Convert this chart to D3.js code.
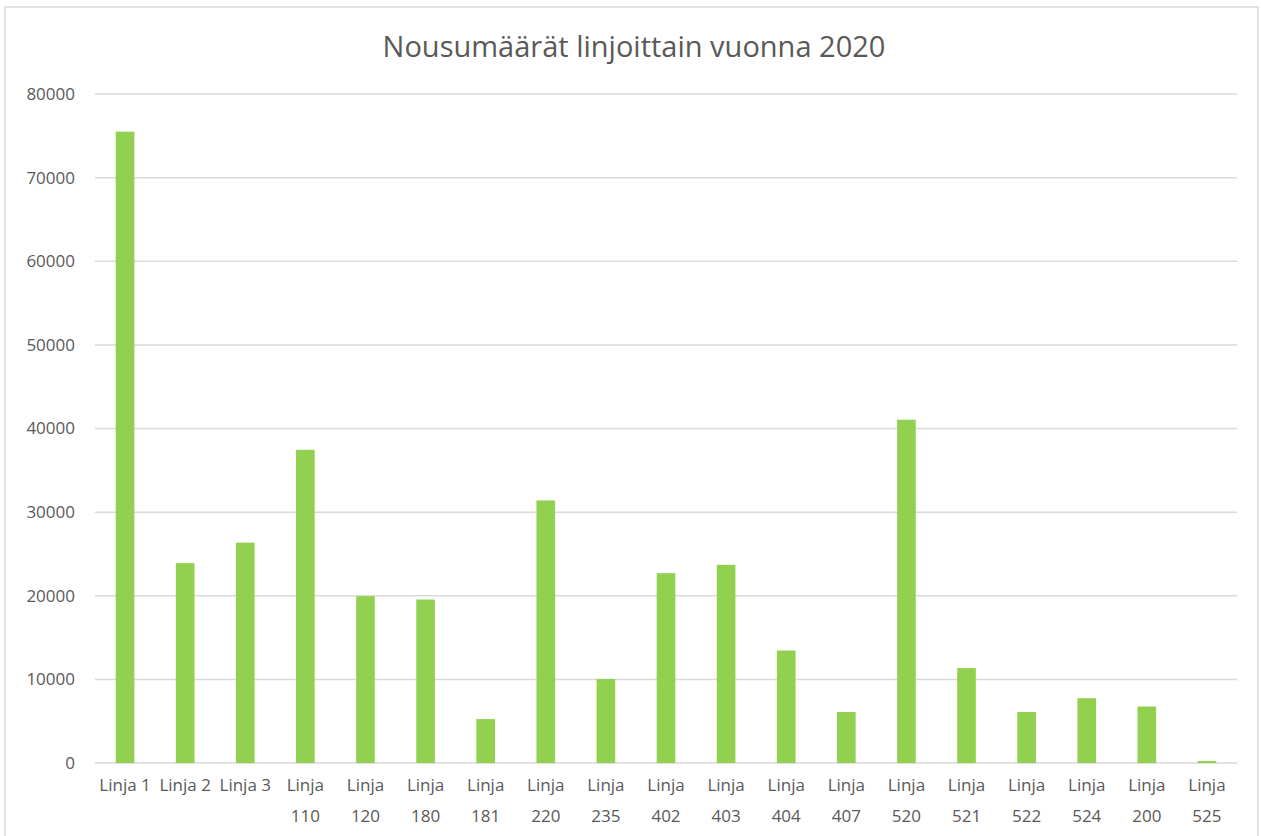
<!DOCTYPE html>
<html>
<head>
<meta charset="utf-8">
<script src="https://cdn.jsdelivr.net/npm/d3@7"></script>
<style>
  body { margin: 0; background: #fff; }
  text { font-family: "Open Sans", sans-serif; fill: #595959; }
</style>
</head>
<body>
<svg id="chart"></svg>
<script>
// Data
const categories = ["Linja 1", "Linja 2", "Linja 3", "Linja 110", "Linja 120", "Linja 180", "Linja 181",
  "Linja 220", "Linja 235", "Linja 402", "Linja 403", "Linja 404", "Linja 407", "Linja 520",
  "Linja 521", "Linja 522", "Linja 524", "Linja 200", "Linja 525"];
const boardings = [75500, 23900, 26350, 37450, 19950, 19550, 5250, 31400, 10050, 22700, 23700,
  13450, 6100, 41050, 11350, 6100, 7750, 6750, 250];
const yTicks = [0, 10000, 20000, 30000, 40000, 50000, 60000, 70000, 80000];
const chartTitle = "Nousumäärät linjoittain vuonna 2020";

const width = 1261, height = 836;
const margin = { top: 94, right: 24, bottom: 73, left: 95 };
const innerW = width - margin.left - margin.right;
const innerH = height - margin.top - margin.bottom;

const svg = d3.select("#chart")
    .attr("width", width)
    .attr("height", height);

// Chart border
svg.append("rect")
    .attr("x", 5).attr("y", 7)
    .attr("width", 1253).attr("height", 840)
    .attr("fill", "none")
    .attr("stroke", "#d9d9d9")
    .attr("stroke-width", 1.5);

svg.append("text")
    .attr("x", 634)
    .attr("y", 57)
    .attr("text-anchor", "middle")
    .style("font-size", "29px")
    .text(chartTitle);

const g = svg.append("g")
    .attr("transform", "translate(" + margin.left + "," + margin.top + ")");

const x = d3.scaleBand()
    .domain(categories)
    .range([0, innerW])
    .paddingInner(0.69)
    .paddingOuter(0.345);

const y = d3.scaleLinear()
    .domain([0, 80000])
    .range([innerH, 0]);

// Gridlines
g.selectAll(".grid")
    .data(yTicks)
    .enter().append("line")
    .attr("x1", 0).attr("x2", innerW)
    .attr("y1", d => y(d)).attr("y2", d => y(d))
    .attr("stroke", "#d9d9d9")
    .attr("stroke-width", 1.5);

// y labels
const yAxis = g.append("g")
    .call(d3.axisLeft(y).tickValues(yTicks).tickSize(0).tickPadding(20).tickFormat(d3.format("d")));
yAxis.select(".domain").remove();
yAxis.selectAll("text")
    .style("font-size", "17px")
    .style("font-family", "\"Open Sans\", sans-serif")
    .attr("fill", "#595959");

// Bars
g.selectAll(".bar")
    .data(categories)
    .enter().append("rect")
    .attr("x", d => x(d))
    .attr("y", (d, i) => y(boardings[i]))
    .attr("width", x.bandwidth())
    .attr("height", (d, i) => innerH - y(boardings[i]))
    .attr("fill", "#92d050");

// x labels, wrap two-line names like Excel
const xl = g.selectAll(".xl")
    .data(categories)
    .enter().append("text")
    .attr("text-anchor", "middle")
    .attr("transform", d => "translate(" + (x(d) + x.bandwidth() / 2) + "," + (innerH + 28) + ")")
    .style("font-size", "17px");

xl.each(function(d) {
    const parts = d.split(" ");
    const t = d3.select(this);
    if (parts[1].length === 1) {
        t.append("tspan").attr("x", 0).attr("y", 0).text(d);
    } else {
        t.append("tspan").attr("x", 0).attr("y", 0).text(parts[0]);
        t.append("tspan").attr("x", 0).attr("y", 31).text(parts[1]);
    }
});
</script>
</body>
</html>
